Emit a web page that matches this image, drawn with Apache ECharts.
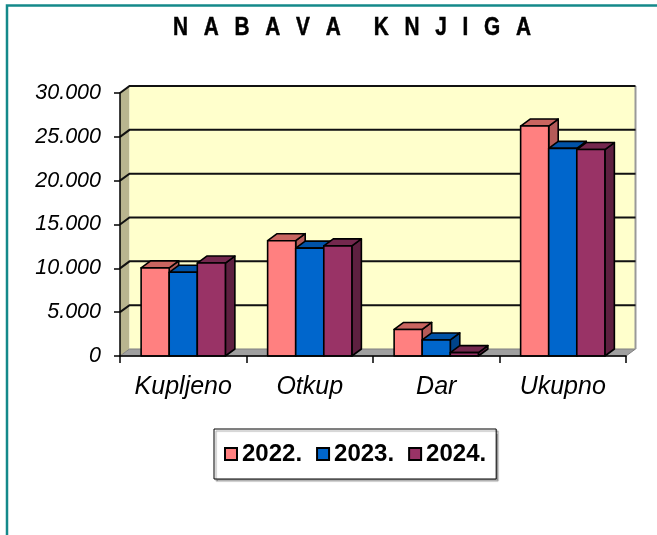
<!DOCTYPE html>
<html>
<head>
<meta charset="utf-8">
<script src="https://cdn.jsdelivr.net/npm/echarts@6.0.0/dist/echarts.min.js"></script>
<style>
  html, body { margin: 0; padding: 0; background: #fff; }
  #main { width: 657px; height: 535px; }
</style>
</head>
<body>
<div id="main"></div>
<script>
// podaci
var categories = ['Kupljeno', 'Otkup', 'Dar', 'Ukupno'];
var years = ['2022.', '2023.', '2024.'];
var values2022 = [10050, 13150, 3030, 26230];
var values2023 = [9550, 12300, 1830, 23680];
var values2024 = [10600, 12560, 390, 23550];
var yMax = 30000;
var yStep = 5000;
var yTicks = [5000, 10000, 15000, 20000, 25000, 30000];

// izgled
var DX = 9.5, DY = -7;          // dubina 3D efekta
var BAR_FRAC = 0.222;           // sirina stupca u odnosu na kategoriju
var faceColors = [
    { front: '#FF8080', top: '#C96560', side: '#B45A58' },
    { front: '#0066CC', top: '#0052A6', side: '#00448A' },
    { front: '#993366', top: '#74284E', side: '#5E2040' }
];
var font = '"Liberation Sans", Arial, sans-serif';

// razmaknuti naslov
var titleText = 'NABAVA KNJIGA';
var spaced = titleText.split(' ').map(function (w) {
    return w.split('').join('  \u2009');
}).join('     \u2009');

var chart = echarts.init(document.getElementById('main'));

// pozadina: zidovi, pod i linije mreze
function renderWalls(params, api) {
    var cs = params.coordSys;
    var x0 = cs.x, x1 = cs.x + cs.width;
    var yb = api.coord([0, 0])[1];
    var yt = api.coord([0, yMax])[1];
    var children = [];
    // lijevi zid
    children.push({
        type: 'polygon',
        shape: { points: [[x0, yt], [x0 + DX, yt + DY], [x0 + DX, yb + DY], [x0, yb]] },
        style: { fill: '#B9B58F', stroke: null }
    });
    // straznji zid
    children.push({
        type: 'rect',
        shape: { x: x0 + DX, y: yt + DY, width: x1 - x0, height: yb - yt },
        style: { fill: '#FFFFCC', stroke: null }
    });
    // pod
    children.push({
        type: 'polygon',
        shape: { points: [[x0, yb], [x1, yb], [x1 + DX, yb + DY], [x0 + DX, yb + DY]] },
        style: { fill: '#A0A0A0', stroke: '#808080', lineWidth: 1 }
    });
    // desni rub zida
    children.push({
        type: 'line',
        shape: { x1: x1 + DX, y1: yt + DY, x2: x1 + DX, y2: yb + DY },
        style: { stroke: '#999', lineWidth: 2 }
    });
    yTicks.forEach(function (v) {
        var y = api.coord([0, v])[1];
        children.push({
            type: 'polyline',
            shape: { points: [[x0, y], [x0 + DX, y + DY], [x1 + DX, y + DY]] },
            style: { stroke: '#111', lineWidth: 2, fill: null }
        });
    });
    return { type: 'group', children: children };
}

function makeBarRenderer(k) {
    var col = faceColors[k];
    return function (params, api) {
        var top = api.coord([api.value(0), api.value(1)]);
        var base = api.coord([api.value(0), 0]);
        var cw = api.size([1, 0])[0];
        var bw = cw * BAR_FRAC;
        var l = top[0] - 1.5 * bw + k * bw;
        var r = l + bw;
        var yt = top[1], yb = base[1];
        var st = { stroke: '#000', lineWidth: 1.6, lineJoin: 'round' };
        return {
            type: 'group',
            children: [
                {
                    type: 'polygon',
                    shape: { points: [[r, yt], [r + DX, yt + DY], [r + DX, yb + DY], [r, yb]] },
                    style: Object.assign({ fill: col.side }, st)
                },
                {
                    type: 'polygon',
                    shape: { points: [[l, yt], [l + DX, yt + DY], [r + DX, yt + DY], [r, yt]] },
                    style: Object.assign({ fill: col.top }, st)
                },
                {
                    type: 'rect',
                    shape: { x: l, y: yt, width: bw, height: yb - yt },
                    style: Object.assign({ fill: col.front }, st)
                }
            ]
        };
    };
}

var seriesData = [values2022, values2023, values2024];
var series = [{
    name: 'pozadina',
    type: 'custom',
    silent: true,
    clip: false,
    renderItem: renderWalls,
    encode: { x: 0, y: 1 },
    data: [[0, 0]],
    z: 1
}];
years.forEach(function (name, k) {
    series.push({
        name: name,
        type: 'custom',
        clip: false,
        renderItem: makeBarRenderer(k),
        encode: { x: 0, y: 1 },
        itemStyle: { color: faceColors[k].front },
        data: seriesData[k].map(function (v, i) { return [i, v]; }),
        z: 2
    });
});

option = {
    backgroundColor: '#fff',
    animation: false,
    graphic: [{
        type: 'rect',
        shape: { x: 7, y: 5.5, width: 700, height: 600 },
        style: { fill: null, stroke: '#14898A', lineWidth: 2.5 },
        silent: true,
        z: -1
    }, {
        // naslov, malo suzen kao u originalu
        type: 'text',
        x: 352,
        y: 28,
        scaleX: 0.8,
        style: {
            text: spaced,
            x: 0,
            y: 0,
            textAlign: 'center',
            textVerticalAlign: 'middle',
            font: 'bold 26px ' + font,
            fill: '#000',
            stroke: '#000',
            lineWidth: 0.5
        },
        silent: true
    }],
    legend: {
        data: years,
        left: 214,
        top: 429,
        padding: [13, 10, 13, 10],
        itemGap: 14,
        itemWidth: 12,
        itemHeight: 12,
        icon: 'rect',
        itemStyle: { borderColor: '#000', borderWidth: 2 },
        backgroundColor: '#fff',
        borderColor: '#000',
        borderWidth: 1,
        shadowColor: 'rgba(0,0,0,0.35)',
        shadowOffsetX: 2,
        shadowOffsetY: 2,
        shadowBlur: 1,
        textStyle: { fontFamily: font, fontSize: 24, fontWeight: 'bold', color: '#000' }
    },
    grid: {
        left: 120,
        top: 93,
        width: 506,
        height: 263,
        containLabel: false
    },
    xAxis: {
        type: 'category',
        data: categories,
        z: 5,
        axisLine: { lineStyle: { color: '#000', width: 1.5 } },
        axisTick: { show: true, length: 7, lineStyle: { color: '#000', width: 1.5 } },
        axisLabel: {
            margin: 19,
            fontFamily: font,
            fontSize: 25,
            fontStyle: 'italic',
            color: '#000'
        },
        splitLine: { show: false }
    },
    yAxis: {
        type: 'value',
        min: 0,
        max: yMax,
        interval: yStep,
        z: 5,
        axisLine: { show: true, lineStyle: { color: '#000', width: 1.5 } },
        axisTick: { show: true, length: 6, lineStyle: { color: '#000', width: 1.5 } },
        axisLabel: {
            margin: 19,
            fontFamily: font,
            fontSize: 21.5,
            fontStyle: 'italic',
            color: '#000',
            formatter: function (v) { return v === 0 ? '0' : (v / 1000) + '.000'; }
        },
        splitLine: { show: false }
    },
    series: series
};

chart.setOption(option);
</script>
</body>
</html>
